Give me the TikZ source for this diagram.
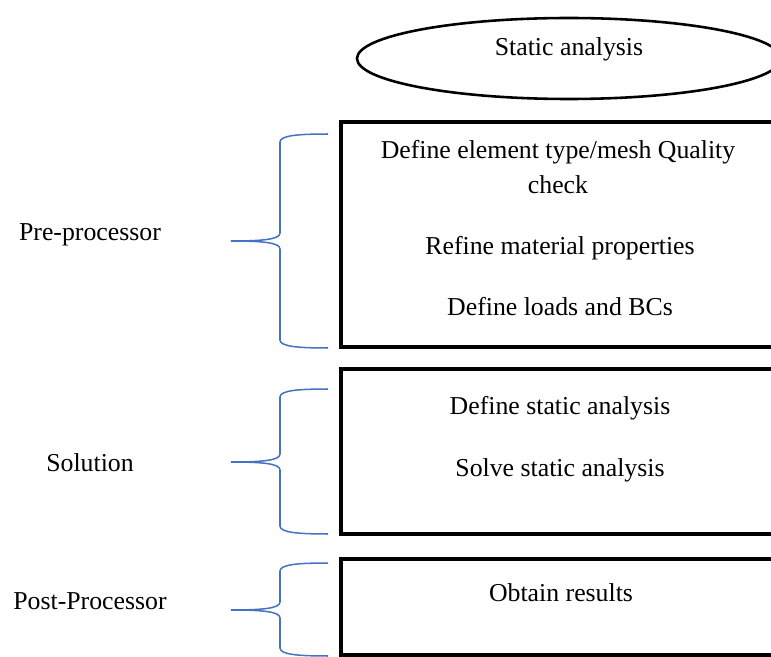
\documentclass[tikz,border=0pt]{standalone}
\usepackage{fontspec}
\setmainfont{Liberation Serif}
\usepackage{tikz}
\usetikzlibrary{calc}
\usetikzlibrary{positioning}
\definecolor{braceblue}{RGB}{68, 114, 196}

% curly bracket: top tip, middle tip, bottom tip (y in px)
\newcommand{\stagebrace}[3]{%
    \draw[stagebrace] (328,#1) .. controls (298,#1) and (280,#1+1.5) .. (280,#1+8)
        -- (280,#2-8) .. controls (280,#2-1.5) and (262,#2) .. (231,#2)
        .. controls (262,#2) and (280,#2+1.5) .. (280,#2+8)
        -- (280,#3-8) .. controls (280,#3-1.5) and (298,#3) .. (328,#3);}

\begin{document}
\begin{tikzpicture}[x=0.4653pt, y=-0.4653pt,
        stagebox/.style={draw=black, line width=1.5pt},
        stagebrace/.style={draw=braceblue, line width=0.7pt},
        stagetext/.style={anchor=base, inner sep=0pt, font=\fontsize{12}{16.75}\selectfont}]
            \useasboundingbox (0,0) rectangle (771,657);
            \clip (0,0) rectangle (771,657);
            % start
            \draw[black, line width=1.2pt] (569,58.5) ellipse (212 and 40.5);
            \node[stagetext] (start) at (569,56) {Static analysis};
            % boxes
            \draw[stagebox] (341,122) rectangle (777,347);
            \draw[stagebox] (341,369) rectangle (777,534);
            \draw[stagebox] (341,559) rectangle (777,655);
            \node[stagetext, align=center] (meshcheck) at (558,194) {Define element type/mesh Quality\\check};
            \node[stagetext] (material) at (560,254) {Refine material properties};
            \node[stagetext] (loads)    at (560,316) {Define loads and BCs};
            \node[stagetext] (define)   at (560,414) {Define static analysis};
            \node[stagetext] (solve)    at (560,476) {Solve static analysis};
            \node[stagetext] (results)  at (561,601) {Obtain results};
            % braces
            \stagebrace{134}{241}{348}
            \stagebrace{389}{462}{534}
            \stagebrace{563}{610}{656}
            \node[stagetext] (pre)  at (90,241) {Pre-processor};
            \node[stagetext] (sol)  at (90,471) {Solution};
            \node[stagetext] (post) at (90,609) {Post-Processor};
        \end{tikzpicture}
\end{document}
